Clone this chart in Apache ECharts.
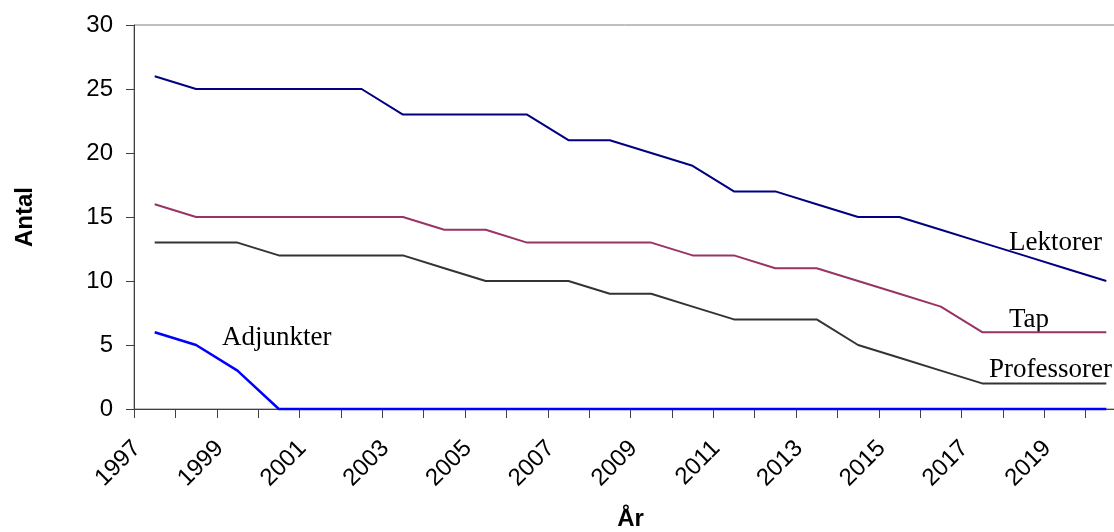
<!DOCTYPE html>
<html>
<head>
<meta charset="utf-8">
<script src="https://cdn.jsdelivr.net/npm/echarts@6/dist/echarts.min.js"></script>
<style>
html,body{margin:0;padding:0;background:#fff;}
#c{width:1114px;height:532px;}
</style>
</head>
<body>
<div id="c"></div>
<script>
var years = ['1997','1998','1999','2000','2001','2002','2003','2004','2005','2006','2007','2008','2009','2010','2011','2012','2013','2014','2015','2016','2017','2018','2019','2020'];
var lektorer    = [26,25,25,25,25,25,23,23,23,23,21,21,20,19,17,17,16,15,15,14,13,12,11,10];
var tap         = [16,15,15,15,15,15,15,14,14,13,13,13,13,12,12,11,11,10,9,8,6,6,6,6];
var professorer = [13,13,13,12,12,12,12,11,10,10,10,9,9,8,7,7,7,5,4,3,2,2,2,2];
var adjunkter   = [6,5,3,0,0,0,0,0,0,0,0,0,0,0,0,0,0,0,0,0,0,0,0,0];
var yTicks = [0,5,10,15,20,25,30];

var sans = 'Liberation Sans, Arial, sans-serif';
var serif = 'Liberation Serif, Times New Roman, serif';

var chart = echarts.init(document.getElementById('c'), null, {renderer:'canvas'});

function lineSeries(name, data, color, width, z){
  return {
    name: name, type: 'line', data: data,
    symbol: 'none', smooth: false, clip: false, z: z,
    lineStyle: {color: color, width: width},
    itemStyle: {color: color}
  };
}

chart.setOption({
  animation: false,
  backgroundColor: '#ffffff',
  grid: {
    left: 134, right: -13, top: 25, bottom: 123,
    show: true, borderColor: '#808080', borderWidth: 1,
    containLabel: false, outerBoundsMode: 'none'
  },
  xAxis: {
    type: 'category', data: years, boundaryGap: true,
    name: 'År', nameLocation: 'middle', nameGap: 98, nameMoveOverlap: false,
    nameTextStyle: {fontFamily: sans, fontSize: 24, fontWeight: 'bold', color: '#000'},
    axisLine: {show: true, lineStyle: {color: '#404040', width: 1}},
    axisTick: {show: true, interval: 0, length: 9, alignWithLabel: false, lineStyle: {color: '#404040'}},
    axisLabel: {
      interval: 1, rotate: 45, margin: 18,
      fontFamily: sans, fontSize: 24, color: '#000',
      formatter: function (v) { return '{t|' + v + '}{s| }'; },
      rich: {
        t: {fontFamily: sans, fontSize: 24, color: '#000'},
        s: {fontFamily: sans, fontSize: 24, width: 25}
      }
    },
    splitLine: {show: false}
  },
  yAxis: {
    type: 'value', min: 0, max: 30, interval: 5,
    name: 'Antal', nameLocation: 'middle', nameGap: 97, nameRotate: 90, nameMoveOverlap: false,
    nameTextStyle: {fontFamily: sans, fontSize: 24, fontWeight: 'bold', color: '#000'},
    axisLine: {show: true, lineStyle: {color: '#404040', width: 1}},
    axisTick: {show: true, inside: false, length: 8, lineStyle: {color: '#404040'}},
    axisLabel: {
      margin: 21, fontFamily: sans, fontSize: 24, color: '#000',
      customValues: yTicks
    },
    splitLine: {show: false}
  },
  series: [
    lineSeries('Lektorer', lektorer, '#000080', 2, 3),
    lineSeries('Tap', tap, '#993366', 2, 3),
    lineSeries('Professorer', professorer, '#333333', 2, 3),
    lineSeries('Adjunkter', adjunkter, '#0000FF', 2.5, 4)
  ],
  graphic: [
    {type:'text', left: 1009, top: 229, style:{text:'Lektorer', font: '27px ' + serif, fill:'#000'}},
    {type:'text', left: 1009, top: 306, style:{text:'Tap', font: '27px ' + serif, fill:'#000'}},
    {type:'text', left: 989, top: 356, style:{text:'Professorer', font: '27px ' + serif, fill:'#000'}},
    {type:'text', left: 222, top: 324, style:{text:'Adjunkter', font: '27px ' + serif, fill:'#000'}}
  ]
});
</script>
</body>
</html>
